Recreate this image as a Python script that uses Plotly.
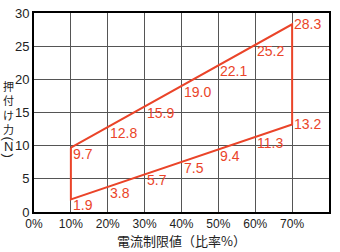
import plotly.graph_objects as go

ratio = [10, 20, 30, 40, 50, 60, 70]
upper = [9.7, 12.8, 15.9, 19.0, 22.1, 25.2, 28.3]
lower = [1.9, 3.8, 5.7, 7.5, 9.4, 11.3, 13.2]
x_ticks = [0, 10, 20, 30, 40, 50, 60, 70, 80]
y_ticks = [0, 5, 10, 15, 20, 25, 30]
y_title_main = ["押", "付", "け", "力"]
y_title_unit = ["(", "N", ")"]

RED = "#ea4429"
FONT = "Liberation Sans, Noto Sans CJK JP"

xs = ratio + ratio[::-1] + [ratio[0]]
ys = upper + lower[::-1] + [upper[0]]

fig = go.Figure()
fig.add_trace(go.Scatter(x=xs, y=ys, mode="lines",
                         line=dict(color=RED, width=2), hoverinfo="skip"))

last = len(ratio) - 1
for series in (upper, lower):
    for i, (xv, yv) in enumerate(zip(ratio, series)):
        if i == last:
            fig.add_annotation(x=xv, y=yv, text=f"{yv:.1f}", showarrow=False,
                               xanchor="left", yanchor="middle", xshift=0,
                               font=dict(family=FONT, size=14, color=RED))
        else:
            fig.add_annotation(x=xv, y=yv, text=f"{yv:.1f}", showarrow=False,
                               xanchor="left", yanchor="top", xshift=0, yshift=4,
                               font=dict(family=FONT, size=14, color=RED))

# vertical y-axis title
fig.add_annotation(xref="paper", yref="paper", x=-0.088, y=0.5243,
                   text="<br>".join(y_title_main), showarrow=False,
                   xanchor="center", yanchor="middle",
                   font=dict(family="Noto Sans CJK JP", size=11, color="#222"))
for ch, sh in zip(y_title_unit, [-31, -39, -48]):
    fig.add_annotation(xref="paper", yref="paper", x=-0.088, y=0.5243,
                       text=ch, showarrow=False, yshift=sh,
                       textangle=90 if ch in "()" else 0,
                       xanchor="center", yanchor="middle",
                       font=dict(family="Liberation Sans", size=13, color="#222"))

fig.update_layout(
    width=340, height=252,
    margin=dict(l=34, r=11, t=6, b=40),
    paper_bgcolor="white", plot_bgcolor="white",
    showlegend=False,
    font=dict(family=FONT, size=12, color="#222"),
    xaxis=dict(range=[0, 80], tickvals=x_ticks,
               ticktext=[f"{v}%" for v in x_ticks],
               showgrid=True, gridcolor="#555", gridwidth=1,
               showline=True, linecolor="black", linewidth=2, mirror=True,
               zeroline=False, ticks="", ticklen=0,
               title=dict(text="電流制限値（比率%）", standoff=4,
                          font=dict(family="Noto Sans CJK JP", size=13, color="#222")),
               tickfont=dict(size=12)),
    yaxis=dict(range=[0, 30], tickvals=y_ticks,
               showgrid=True, gridcolor="#555", gridwidth=1,
               showline=True, linecolor="black", linewidth=2, mirror=True,
               zeroline=False, ticks="", ticklen=0,
               tickfont=dict(size=13)),
)

fig.write_html("out.html")
